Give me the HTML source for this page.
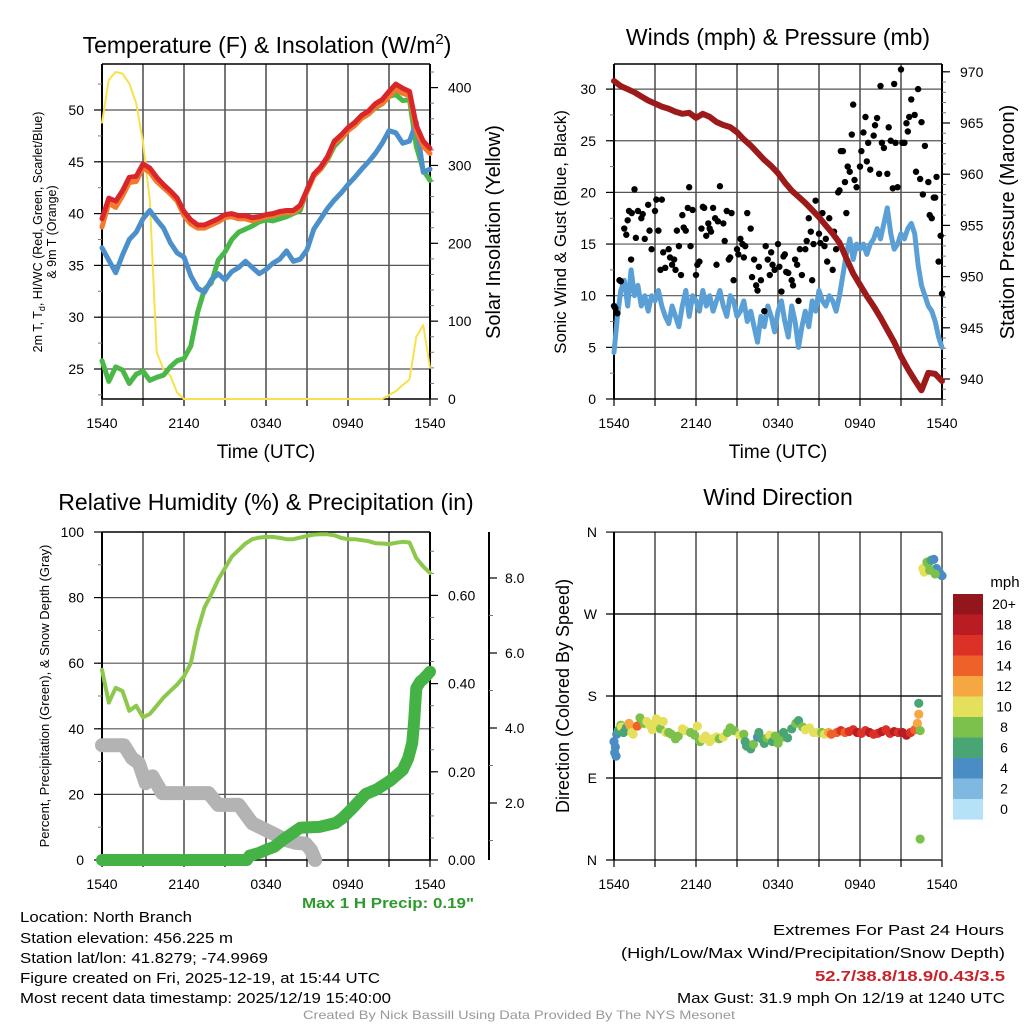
<!DOCTYPE html>
<html><head><meta charset="utf-8"><style>
html,body{margin:0;padding:0;background:#fff;}
svg{display:block;font-family:"Liberation Sans",sans-serif;}
</style></head><body>
<svg id="fig" width="1024" height="1024" viewBox="0 0 1024 1024" xmlns="http://www.w3.org/2000/svg">
<rect width="1024" height="1024" fill="#fff"/>
<g id="layer"></g>
<g font-size="23" text-anchor="middle" fill="#000">
<text x="267" y="53">Temperature (F) &amp; Insolation (W/m<tspan dy="-9" font-size="15">2</tspan><tspan dy="9">)</tspan></text>
<text x="778" y="45">Winds (mph) &amp; Pressure (mb)</text>
<text x="266" y="510">Relative Humidity (%) &amp; Precipitation (in)</text>
<text x="778" y="505">Wind Direction</text>
</g>
<g font-size="19" text-anchor="middle">
<text x="266" y="458">Time (UTC)</text>
<text x="778" y="458">Time (UTC)</text>
</g>
<text transform="translate(42,232) rotate(-90)" font-size="12.5" text-anchor="middle">2m T, T<tspan font-size="9" dy="3">d</tspan><tspan dy="-3">, HI/WC (Red, Green, Scarlet/Blue)</tspan></text>
<text transform="translate(56,232) rotate(-90)" font-size="12.5" text-anchor="middle">&amp; 9m T (Orange)</text>
<text transform="translate(500,232) rotate(-90)" font-size="20" text-anchor="middle">Solar Insolation (Yellow)</text>
<text transform="translate(566,232) rotate(-90)" font-size="17" text-anchor="middle">Sonic Wind &amp; Gust (Blue, Black)</text>
<text transform="translate(1014,222) rotate(-90)" font-size="20" text-anchor="middle">Station Pressure (Maroon)</text>
<text transform="translate(49,696) rotate(-90)" font-size="13" text-anchor="middle">Percent, Precipitation (Green), &amp; Snow Depth (Gray)</text>
<text transform="translate(569,696) rotate(-90)" font-size="18" text-anchor="middle">Direction (Colored By Speed)</text>
<g font-size="15" fill="#000">
<text x="20" y="922" textLength="172" lengthAdjust="spacingAndGlyphs">Location: North Branch</text>
<text x="20" y="943" textLength="213" lengthAdjust="spacingAndGlyphs">Station elevation: 456.225 m</text>
<text x="20" y="963" textLength="248" lengthAdjust="spacingAndGlyphs">Station lat/lon: 41.8279; -74.9969</text>
<text x="20" y="983" textLength="360" lengthAdjust="spacingAndGlyphs">Figure created on Fri, 2025-12-19, at 15:44 UTC</text>
<text x="20" y="1003" textLength="371" lengthAdjust="spacingAndGlyphs">Most recent data timestamp: 2025/12/19 15:40:00</text>
<text x="773" y="935" textLength="231" lengthAdjust="spacingAndGlyphs">Extremes For Past 24 Hours</text>
<text x="621" y="958" textLength="384" lengthAdjust="spacingAndGlyphs">(High/Low/Max Wind/Precipitation/Snow Depth)</text>
<text x="815" y="981" textLength="190" lengthAdjust="spacingAndGlyphs" fill="#c8232a" font-weight="bold">52.7/38.8/18.9/0.43/3.5</text>
<text x="677" y="1003" textLength="328" lengthAdjust="spacingAndGlyphs">Max Gust: 31.9 mph On 12/19 at 1240 UTC</text>
<text x="302" y="908" textLength="172" lengthAdjust="spacingAndGlyphs" fill="#2e9a2e" font-weight="bold">Max 1 H Precip: 0.19"</text>
<text x="303" y="1019" textLength="432" lengthAdjust="spacingAndGlyphs" font-size="12" fill="#999">Created By Nick Bassill Using Data Provided By The NYS Mesonet</text>
</g>
</svg>
<script>
// ---------- data (half-hourly, 0..24 h after 1540 UTC) ----------
const xTickLabels = ["1540","2140","0340","0940","1540"];
const tempRed = [39.5,41.5,41.2,42.2,43.5,43.6,44.8,44.4,43.5,42.8,42.2,41.5,40.2,39.4,38.9,38.9,39.2,39.5,39.9,40.0,39.8,39.8,39.6,39.7,39.9,40.0,40.2,40.3,40.3,40.8,42.3,43.8,44.5,45.5,47.0,47.6,48.3,48.8,49.5,49.9,50.6,51.0,51.8,52.5,52.1,51.8,48.5,47.0,46.3];
const tempOrange = [38.7,41.0,40.6,41.7,43.0,43.1,44.4,44.0,43.1,42.5,41.9,41.2,39.8,39.0,38.6,38.6,38.9,39.2,39.6,39.7,39.5,39.5,39.3,39.5,39.7,39.8,40.0,40.1,40.1,40.6,42.1,43.6,44.3,45.3,46.8,47.3,48.0,48.5,49.2,49.6,50.3,50.6,51.3,52.0,51.6,51.4,48.0,46.5,45.8];
const dewGreen = [25.8,23.8,25.2,24.9,23.6,24.5,24.8,23.9,24.2,24.4,25.2,25.8,26.0,27.2,30.5,32.7,33.3,35.5,36.3,37.5,38.2,38.5,38.8,39.2,39.4,39.3,39.5,39.7,40.0,40.3,42.3,43.8,44.3,45.2,46.5,47.2,48.0,48.6,49.2,49.6,50.2,50.6,51.3,51.5,50.9,51.0,46.5,44.2,43.2];
const chillBlue = [36.7,35.5,34.3,36.0,37.5,38.2,39.5,40.3,39.4,38.6,37.2,36.2,35.8,34.0,32.8,32.4,33.6,34.2,33.6,34.4,34.8,35.4,34.8,34.2,34.6,35.2,35.6,36.4,35.4,35.6,36.5,38.5,39.5,40.5,41.3,42.0,42.8,43.5,44.3,45.0,45.8,46.8,48.0,47.8,46.8,47.0,48.8,44.0,44.3];
const solar = [355,410,420,418,405,380,330,255,60,38,30,8,0,0,0,0,0,0,0,0,0,0,0,0,0,0,0,0,0,0,0,0,0,0,0,0,0,0,0,0,0,0,5,10,18,25,80,95,40];
const pressure = [969.1,968.6,968.3,968.0,967.6,967.2,966.9,966.6,966.4,966.1,965.9,966.0,965.5,965.9,965.6,965.1,964.8,964.6,964.1,963.4,962.8,962.1,961.4,960.8,960.1,959.2,958.4,957.8,957.2,956.5,955.8,955.0,954.2,953.3,951.8,950.3,949.2,948.1,947.1,946.0,944.8,943.6,942.2,941.0,939.9,938.9,940.6,940.5,939.8];
// quarter-hourly sonic wind
const windSpeed = [4.5,8,10.5,11.5,9,12.5,10,11,9,10,8.5,10,9.5,10.5,9,8,7.3,9,8,7,9,10.5,8,10,9.5,8.5,10.5,9,10,8.5,9.5,10.5,9,8,10,9.5,8,8.5,9.5,7.5,8.5,7,5.5,8,7,9,8,6.5,8.5,9.5,7.5,6,9,7.5,5,7,8.5,7,9.5,8.5,10.5,9.5,9,10,9.5,8.5,10,12,14,15.5,13.5,15,14.5,15,14,15,15.5,16.5,15.5,17,18.5,16,14.5,15,16,15.5,16.5,17,16,13,11,10,9,8.5,7.5,6,5];
const gustTimes = [0,0.1,0.25,0.4,0.5,0.75,0.9,1,1.1,1.25,1.3,1.5,1.6,1.75,2,2.1,2.25,2.5,2.6,2.75,3,3.1,3.25,3.4,3.5,3.6,3.75,4,4.1,4.25,4.4,4.5,4.6,4.75,4.9,5,5.1,5.25,5.4,5.5,5.6,5.75,6,6.1,6.25,6.4,6.5,6.6,6.75,6.9,7,7.1,7.25,7.4,7.5,7.6,7.75,8,8.1,8.25,8.4,8.5,8.6,8.75,9,9.1,9.25,9.4,9.5,9.6,9.75,10,10.1,10.25,10.4,10.5,10.6,10.75,11,11.1,11.25,11.4,11.5,11.6,11.75,12,12.1,12.25,12.4,12.5,12.6,12.75,13,13.1,13.25,13.4,13.5,13.6,13.75,14,14.1,14.25,14.4,14.5,14.6,14.75,15,15.1,15.25,15.4,15.5,15.6,15.75,16,16.1,16.25,16.4,16.5,16.6,16.75,16.9,17,17.1,17.25,17.4,17.5,17.6,17.75,18,18.1,18.25,18.4,18.5,18.6,18.75,19,19.1,19.25,19.4,19.5,19.6,19.75,20,20.1,20.25,20.4,20.5,20.6,20.75,21,21.1,21.25,21.4,21.5,21.6,21.75,22,22.1,22.25,22.4,22.5,22.6,22.75,23,23.1,23.25,23.4,23.5,23.6,23.75,23.9,24];
const gustValues = [9,8.8,8.3,11.5,11.4,16.5,15.9,17.3,18.2,13.5,18,20.3,15.6,18.2,17.5,17.9,15.5,18.8,16.3,14.5,18.2,19.3,16.3,12.5,19.3,14.2,12.7,14.5,13.7,13,13.5,12.5,16.3,14.8,12,17.8,16.6,16.3,18.5,20.5,14.8,18.3,12,13,13.3,16.5,18.6,18.5,15.8,17,16.5,16.2,18.5,17.5,13,17.2,20.6,17,15.3,18.2,13.5,13.7,18,11.5,14.5,14,15.5,15,13.7,14.8,18,16.5,11.8,13.5,11,10.5,12.8,11.5,8.5,14.8,13.5,12,14.2,13,12.5,15,12.8,10.4,13.8,14,12.3,12.2,11.5,11,13.5,13,9.5,14.5,12,14.5,15.3,17.5,16.2,11.5,15,19.2,16,15.1,18,14.8,15.5,13.3,17.5,12.5,16.2,14.5,20,20.2,24,24,21,18,22.5,22,25.6,28.5,21.2,20.5,22.5,24,25.8,27.3,23,24.8,22.2,25.5,26.5,27.2,21.8,30.3,24.8,24.3,21.8,26.3,25,20.4,30.5,24.8,20.5,31.9,24.8,24.8,26.7,25.9,27.3,29,27.5,22,30,21.3,26.8,19.8,24.5,21,17.8,17.5,19.5,19.5,21.5,13.3,15.8,10.2];
const rhValues = [58,48,52.5,51.5,45.5,47,43.5,44.5,47,49.5,51.5,53.5,56,60,70,77,81,85.5,89,92.5,94.5,96.5,97.8,98.3,98.5,98.5,98.2,97.8,97.8,98.3,98.8,99.2,99.3,99.3,99,98.2,97.8,97.8,97.5,97.2,96.6,96.5,96.3,96.7,97,96.8,92,89.5,87.5];
const precipTimes = [0,10.6,10.8,11.5,12,12.6,13.2,14.5,15.9,17.1,17.6,18.4,19.3,20.1,21.1,22,22.4,22.7,22.8,22.85,23,23.3,23.5,23.8,24];
const precipValues = [0,0,0.01,0.016,0.023,0.03,0.045,0.073,0.075,0.084,0.095,0.12,0.15,0.16,0.18,0.204,0.23,0.265,0.3,0.32,0.39,0.405,0.41,0.42,0.427];
const snowTimes = [0,1.6,2.2,2.7,3.2,3.7,4.4,7.8,8.5,10,11,12.5,13.5,14.2,14.9,15.3,15.6];
const snowValues = [35,35,31,29.5,23.4,25.5,20.4,20.4,16.8,16.8,11.2,8.1,6,5.2,5,3,0];
const dirTimes = [0,0.05,0.1,0.15,0.2,0.3,0.5,0.55,0.7,0.9,1.1,1.2,1.3,1.4,1.7,1.9,2.2,2.4,2.6,2.8,3.0,3.1,3.2,3.4,3.6,3.8,4.0,4.2,4.5,4.7,5.0,5.2,5.6,5.9,6.1,6.3,6.5,6.7,7.0,7.2,7.5,7.7,8.0,8.3,8.5,8.8,9.2,9.5,9.6,9.7,10.0,10.2,10.5,10.6,10.8,11.0,11.2,11.4,11.6,11.8,12.0,12.2,12.4,12.7,13.0,13.3,13.5,13.8,14.0,14.3,14.6,14.9,15.2,15.4,15.7,15.9,16.3,16.6,16.9,17.2,17.5,17.8,18.1,18.4,18.7,19.0,19.3,19.6,19.9,20.2,20.5,20.8,21.1,21.4,21.7,22.0,22.2,22.3,22.3,22.4,22.4,22.6,22.7,22.9,23.0,23.2,23.4,23.6,23.8,24,23.1,23.5];
const dirValues = [130,118,124,114,138,142,148,146,140,145,150,147,140,138,147,156,150,152,148,143,150,155,149,144,152,140,140,138,133,136,144,142,140,137,147,130,133,136,130,133,135,133,135,140,145,142,137,138,130,125,122,127,135,140,133,128,134,137,130,136,128,134,140,134,144,150,153,146,143,145,140,140,140,138,140,138,140,142,140,141,143,140,139,142,140,138,139,141,143,139,141,140,140,137,140,143,150,160,172,142,23,320,316,327,325,329,330,320,316,312,318,314];
const dirSpeeds = [4,4,5,4,4,7,8,10,7,7,12,12,11,10,14,9,8,10,10,10,10,10,10,8,10,10,8,8,8,8,10,10,8,8,10,8,10,10,10,10,10,8,10,8,8,8,10,8,6,6,6,8,4,6,6,6,8,10,6,8,8,8,6,6,6,8,6,8,10,10,10,10,8,10,12,14,14,16,14,16,16,18,16,16,18,16,16,18,16,16,18,16,18,18,16,14,12,12,6,8,8,10,10,8,8,6,4,4,4,4,8,8];
const speedLabels = ["0","2","4","6","8","10","12","14","16","18","20+"];
const speedColors = ["#b5e2f6","#7fb9e2","#4a8dc4","#4aa574","#7cc14b","#e5e05c","#f5a742","#ee6229","#db3127","#ba1c23","#92161b"];

// ---------- drawing ----------
const NS = "http://www.w3.org/2000/svg";
const root = document.getElementById("layer");
function el(tag, attrs, parent){ const e=document.createElementNS(NS,tag); for(const k in attrs) e.setAttribute(k,attrs[k]); (parent||root).appendChild(e); return e; }
function steps(n, s){ const a=[]; for(let i=0;i<n;i++) a.push(i*s); return a; }
const HH = steps(49, 0.5);
const QH = steps(97, 0.25);

function makePanel(px){ return { x0:px, w:328, sx:t=>px + t/24*328 }; }
const P1 = makePanel(102), P2 = makePanel(614), P3 = makePanel(102), P4 = makePanel(614);
const tempY = v=>369-(v-25)*10.36, solarY = v=>399-v*0.7785;
const windY = v=>399-v*10.33, presY = v=>379-(v-940)*10.24;
const rhY = v=>860-v*3.28, precipY = v=>860-v*441;
const snowAxY = v=>878-v*37.5;
const dirY = v=>860-v*0.911;

function grid(P, top, bot, hLines, name){
  const g = el("g",{});
  
  
  for(let h=3;h<24;h+=3){ el("line",{x1:P.sx(h),x2:P.sx(h),y1:top,y2:bot,stroke:"#555","stroke-width":1.6},g); }
  hLines.forEach(y=>el("line",{x1:P.x0,x2:P.x0+P.w,y1:y,y2:y,stroke:"#555","stroke-width":1.2},g));
}
function xAxis(P, bot, name){
  const g = el("g",{"font-size":14,"text-anchor":"middle"});
  
  
  for(let h=0;h<=24;h+=3){ el("line",{x1:P.sx(h),x2:P.sx(h),y1:bot,y2:bot+7,stroke:"#000","stroke-width":1.2},g); }
  xTickLabels.forEach((lab,i)=>{ const t=el("text",{x:P.sx(i*6),y:bot+29},g); t.textContent=lab; });
}
function yAxis(x, dir, majors, minors, fn, fmt, name, top, bot, off){
  const g = el("g",{"font-size":14,"text-anchor":dir<0?"end":"start"});
  
  
  el("line",{x1:x,x2:x,y1:top,y2:bot,stroke:"#000","stroke-width":2},g);
  minors.forEach(v=>{ const y=fn(v); if(y>=top-0.5&&y<=bot+0.5) el("line",{x1:x,x2:x+dir*4,y1:y,y2:y,stroke:"#777","stroke-width":1},g); });
  majors.forEach(v=>{ const y=fn(v); el("line",{x1:x,x2:x+dir*8,y1:y,y2:y,stroke:"#000","stroke-width":1.2},g);
    const t=el("text",{x:x+dir*(off||18),y:y+5},g); t.textContent=fmt(v); });
}
function range(a,b,s){ const r=[]; for(let v=a; v<=b+1e-9; v+=s) r.push(+v.toFixed(4)); return r; }
function line(P, ts, vs, fy, color, w, name){
  const d = ts.map((t,i)=>(i?"L":"M")+P.sx(t).toFixed(1)+","+fy(vs[i]).toFixed(1)).join("");
  const p = el("path",{d:d,fill:"none",stroke:color,"stroke-width":w,"stroke-linejoin":"round","stroke-linecap":"round"});
  
  
  return p;
}

// Panel 1: temperature
grid(P1, 64, 399, range(25,50,5).map(tempY), "temp");
yAxis(102,-1,range(25,50,5),range(22.5,55,2.5),tempY,v=>String(v),"temp-left-axis",64,399);
yAxis(430,1,range(0,400,100),range(0,420,20),solarY,v=>String(v),"solar-right-axis",64,399);
el("line",{x1:102,x2:430,y1:64,y2:64,stroke:"#000","stroke-width":1.5});
el("line",{x1:102,x2:430,y1:399,y2:399,stroke:"#000","stroke-width":1.5});
xAxis(P1,399,"temp");
line(P1,HH,solar,solarY,"#f7e14c",2,"solar-line");
line(P1,HH,dewGreen,tempY,"#4ab848",5,"dewpoint-line");
line(P1,HH,chillBlue,tempY,"#4b8fcb",5,"windchill-line");
line(P1,HH,tempOrange,tempY,"#f4792a",5,"temp-9m-line");
line(P1,HH,tempRed,tempY,"#d8262b",5,"temp-2m-line");

// Panel 2: winds & pressure
grid(P2, 64, 399, range(5,30,5).map(windY), "wind");
yAxis(614,-1,range(0,30,5),range(0,32.5,2.5),windY,v=>String(v),"wind-left-axis",64,399);
yAxis(942,1,range(940,970,5),range(938,970,1),presY,v=>String(v),"pressure-right-axis",64,399);
el("line",{x1:614,x2:942,y1:64,y2:64,stroke:"#000","stroke-width":1.5});
el("line",{x1:614,x2:942,y1:399,y2:399,stroke:"#000","stroke-width":1.5});
xAxis(P2,399,"wind");
line(P2,QH,windSpeed,windY,"#5a9fd6",5,"wind-speed-line");
gustTimes.forEach((t,i)=>{
  const c = el("circle",{cx:P2.sx(t),cy:windY(gustValues[i]),r:3.2,fill:"#000"});
  
  
});
line(P2,HH,pressure,presY,"#9c1a1a",6,"pressure-line");

// Panel 3: humidity & precip
grid(P3, 532, 860, range(20,80,20).map(rhY), "humidity");
yAxis(102,-1,range(0,100,20),range(0,100,10),rhY,v=>String(v),"humidity-left-axis",532,860);
yAxis(430,1,range(0,0.6,0.2),range(0,0.75,0.05),precipY,v=>v.toFixed(2),"precip-right-axis",532,860);
yAxis(489,1,range(2,8,2),range(1,8.5,1),snowAxY,v=>v.toFixed(1),"snow-right-axis",532,860,16);
el("line",{x1:102,x2:430,y1:532,y2:532,stroke:"#000","stroke-width":1.5});
el("line",{x1:102,x2:430,y1:860,y2:860,stroke:"#000","stroke-width":1.5});
xAxis(P3,860,"humidity");
line(P3,snowTimes,snowValues,rhY,"#b3b3b3",14,"snow-depth-line");
line(P3,precipTimes,precipValues,precipY,"#45b245",12,"precip-line");
line(P3,HH,rhValues,rhY,"#8cc84b",4,"humidity-line");

// Panel 4: wind direction
grid(P4, 532, 860, [614,696,778], "direction");
{
  const g = el("g",{"font-size":14,"text-anchor":"end"});
  
  
  el("line",{x1:614,x2:614,y1:532,y2:860,stroke:"#000","stroke-width":2},g);
  ["N","E","S","W","N"].forEach((lab,i)=>{ const y=dirY(i*90);
    el("line",{x1:606,x2:942,y1:y,y2:y,stroke:"#000","stroke-width":1.2},g);
    const t=el("text",{x:597,y:y+5},g); t.textContent=lab; });
}
el("line",{x1:942,x2:942,y1:532,y2:860,stroke:"#555","stroke-width":1.6});
xAxis(P4,860,"direction");
dirTimes.forEach((t,i)=>{
  const ci = Math.min(10, Math.floor(dirSpeeds[i]/2));
  const c = el("circle",{cx:P4.sx(t),cy:dirY(dirValues[i]),r:4.6,fill:speedColors[ci]});
  
  
});
{
  const g = el("g",{"font-size":14,"text-anchor":"middle"});
  
  
  const t0 = el("text",{x:1005,y:587,"font-size":15},g); t0.textContent="mph";
  speedColors.slice().reverse().forEach((c,i)=>{
    const y = 594 + i*20.5;
    const r = el("rect",{x:953,y:y,width:30,height:20.6,fill:c},g);
    
    
    const t = el("text",{x:1004,y:y+15},g); t.textContent = speedLabels[10-i];
  });
}
</script>
</body></html>
